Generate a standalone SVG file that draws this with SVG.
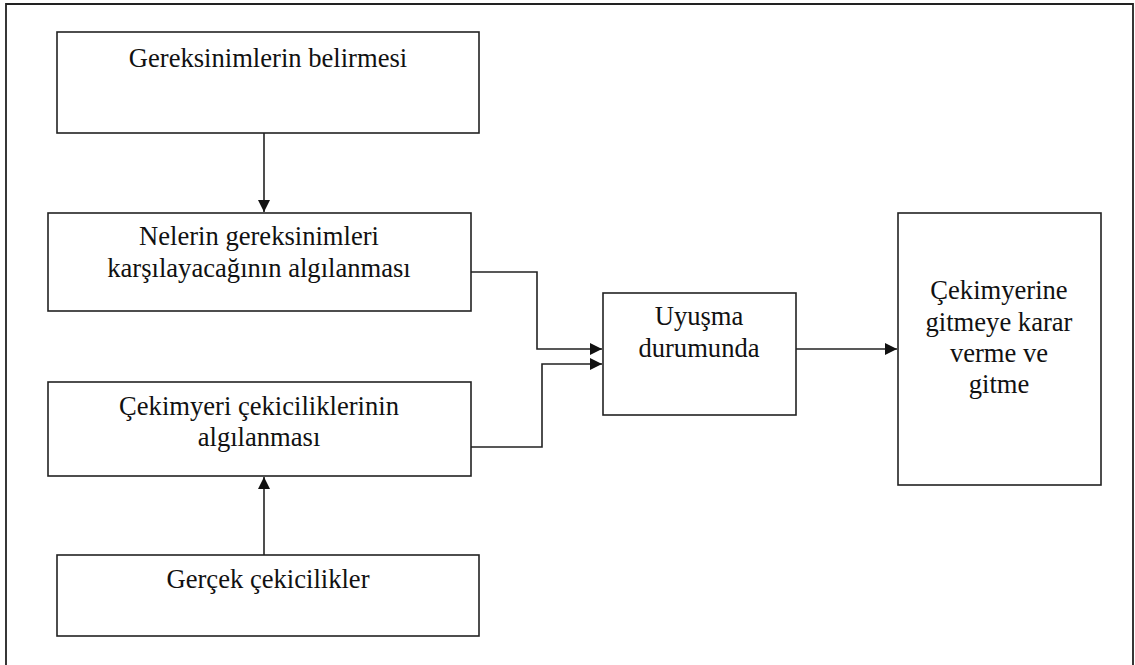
<svg xmlns="http://www.w3.org/2000/svg" width="1135" height="665" viewBox="0 0 1135 665">
<defs>
<style>
.box{fill:#fff;stroke:#222;stroke-width:1.6}
.t{font-size:26.6px;fill:#111;text-anchor:middle}
.c{fill:none;stroke:#222;stroke-width:1.6}
</style>
<marker id="ah" viewBox="0 0 12 12" refX="12" refY="6" markerWidth="12" markerHeight="12" markerUnits="userSpaceOnUse" orient="auto">
<path d="M0,0 L12,6 L0,12 Z" fill="#111"/>
</marker>
</defs>
<rect x="0" y="0" width="1135" height="665" fill="#fff"/>
<path d="M6,700 V4 H1133 V700" fill="none" stroke="#222" stroke-width="1.8"/>
<g font-family="Liberation Serif, DejaVu Serif, serif">
<g id="n1"><rect class="box" x="57" y="32" width="422" height="101"/><text class="t" x="268" y="67">Gereksinimlerin belirmesi</text></g>
<g id="n2"><rect class="box" x="48" y="213" width="423" height="98"/><text class="t" x="259" y="245">Nelerin gereksinimleri</text><text class="t" x="259" y="277">karşılayacağının algılanması</text></g>
<g id="n3"><rect class="box" x="48" y="382" width="423" height="94"/><text class="t" x="259" y="415">Çekimyeri çekiciliklerinin</text><text class="t" x="259" y="446">algılanması</text></g>
<g id="n4"><rect class="box" x="57" y="555" width="422" height="81"/><text class="t" x="268" y="588">Gerçek çekicilikler</text></g>
<g id="n5"><rect class="box" x="603" y="293" width="193" height="122"/><text class="t" x="699" y="325">Uyuşma</text><text class="t" x="699" y="357">durumunda</text></g>
<g id="n6"><rect class="box" x="898" y="213" width="203" height="272"/><text class="t" x="999" y="299">Çekimyerine</text><text class="t" x="999" y="331">gitmeye karar</text><text class="t" x="999" y="362">verme ve</text><text class="t" x="999" y="393">gitme</text></g>
</g>
<g id="connectors">
<path class="c" d="M264,133 V212" marker-end="url(#ah)"/>
<path class="c" d="M264,555 V477" marker-end="url(#ah)"/>
<path class="c" d="M471,272 H537 V349 H602" marker-end="url(#ah)"/>
<path class="c" d="M471,447 H542 V364 H602" marker-end="url(#ah)"/>
<path class="c" d="M796,349 H897" marker-end="url(#ah)"/>
</g>
</svg>
